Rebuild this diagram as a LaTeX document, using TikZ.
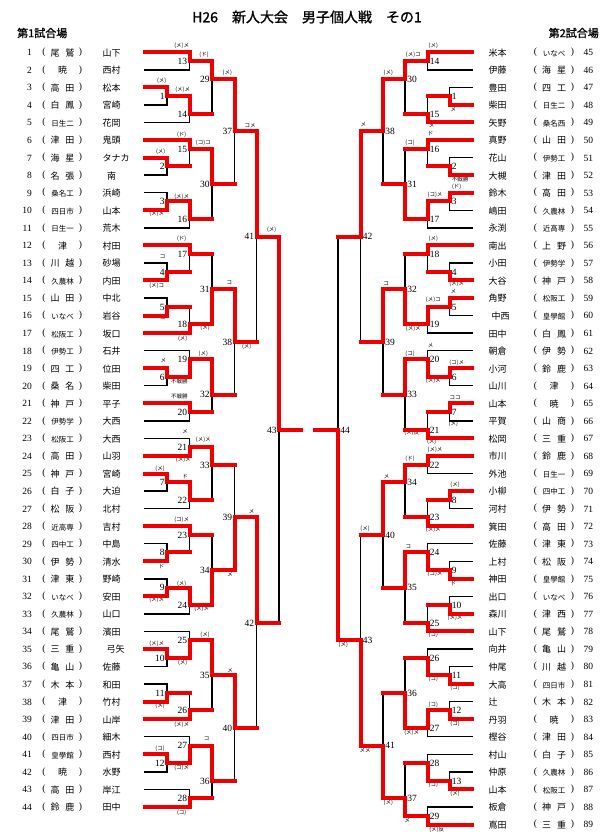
\documentclass[tikz,border=0pt]{standalone}
\usepackage{fontspec}
\setmainfont{Liberation Serif}
\newfontfamily\jp{Noto Sans CJK JP}
\newfontfamily\jpb[FakeBold=1.2]{Noto Sans CJK JP}
\definecolor{bred}{RGB}{238,0,0}
\pgfdeclarelayer{fg}
\pgfsetlayers{main,fg}
\tikzset{
 bk/.style={line width=1.4pt,black,line cap=rect},
 rd/.style={line width=4pt,bred,line cap=rect},
 num/.style={font=\fontsize{9.5}{9.5}\selectfont,inner sep=0.6pt,text height=0.68em,text depth=0pt},
 rn/.style={font=\fontsize{9.5}{9.5}\selectfont,inner sep=0pt,text height=0.68em,text depth=0pt},
 nm/.style={font=\jp\fontsize{9}{9}\selectfont,inner sep=0pt,text height=0.78em,text depth=0pt},
 pa/.style={font=\fontsize{9.5}{9.5}\selectfont,inner sep=0pt},
 sch/.style={font=\jp\fontsize{9}{9}\selectfont,inner sep=0pt,text height=0.78em,text depth=0pt},
 sc/.style={font=\jp\fontsize{5.5}{5.5}\selectfont,inner sep=0pt},
}
\def\Lo{167}\def\Lt{189.5}\def\Lh{212}\def\Lf{234.5}\def\Lv{256.5}\def\Ls{279}
\def\Ro{449.5}\def\Rt{427.5}\def\Rh{405}\def\Rf{383}\def\Rv{360.5}\def\Rs{338}
% left match: #1 no, #2 vertical x, #3 top start x, #4 top p, #5 bottom start x, #6 bottom p, #7 out p, #8 winner t/b
\newcommand\LM[8]{%
 \draw[bk] (#2,#4)--(#2,#6);
 \ifdim#3pt>146pt\relax\else\draw[bk](#3,#4)--(#2,#4);\fi
 \ifdim#5pt>146pt\relax\else\draw[bk](#5,#6)--(#2,#6);\fi
 \begin{pgfonlayer}{fg}
 \ifdim#3pt>146pt \draw[rd](#3,#4)--(#2,#4);\fi
 \ifdim#5pt>146pt \draw[rd](#5,#6)--(#2,#6);\fi
 \if t#8 \draw[rd](#3,#4)--(#2,#4)--(#2,#7);\else\draw[rd](#5,#6)--(#2,#6)--(#2,#7);\fi
 \end{pgfonlayer}
 \node[num,anchor=east,xshift=-1.6pt] (mL#1) at (#2,#7) {#1};
}
\newcommand\RM[8]{%
 \draw[bk] (#2,#4)--(#2,#6);
 \ifdim#3pt<471pt\relax\else\draw[bk](#3,#4)--(#2,#4);\fi
 \ifdim#5pt<471pt\relax\else\draw[bk](#5,#6)--(#2,#6);\fi
 \begin{pgfonlayer}{fg}
 \ifdim#3pt<471pt \draw[rd](#3,#4)--(#2,#4);\fi
 \ifdim#5pt<471pt \draw[rd](#5,#6)--(#2,#6);\fi
 \if t#8 \draw[rd](#3,#4)--(#2,#4)--(#2,#7);\else\draw[rd](#5,#6)--(#2,#6)--(#2,#7);\fi
 \end{pgfonlayer}
 \node[num,anchor=west,xshift=1.6pt] (mR#1) at (#2,#7) {#1};
}
\newcommand\sB[2]{\makebox[24pt][s]{#1\hfil#2}}
\newcommand\sC[1]{{\fontsize{7.5}{7.5}\selectfont #1}}
\newcommand\Lrow[3]{% #1 number(=p), #2 school, #3 name
 \node[rn,anchor=east] (lnum#1) at (32,#1) {#1};
 \node[pa] (lpa#1) at (44,#1) {(};
 \node[sch] (lsc#1) at (62.5,#1) {#2};
 \node[pa] (lpb#1) at (80.5,#1) {)};
 \node[nm,anchor=west] (lnm#1) at (102.5,#1) {#3};
}
\newcommand\Rrow[4]{% #1 p, #2 number, #3 school, #4 name
 \node[nm,anchor=west] (rnm#2) at (488.5,#1) {#4};
 \node[pa] (rpa#2) at (535.5,#1) {(};
 \node[sch] (rsc#2) at (554,#1) {#3};
 \node[pa] (rpb#2) at (572.5,#1) {)};
 \node[rn,anchor=west] (rnum#2) at (583.5,#1) {#2};
}
\newcommand\lb[3]{\node[sc] at (#1,#2) {#3};}
\begin{document}
\begin{tikzpicture}[x=1pt,y=-17.55pt]
\useasboundingbox (0,-1.980) rectangle (615,45.826);
\fill[white] (0,-1.980) rectangle (615,45.826);
% ---------- left bracket ----------
\LM{13}{\Lt}{145}{1}{145}{2}{1.5}{t}
\LM{1}{\Lo}{145}{3}{145}{4}{3.5}{t}
\LM{14}{\Lt}{\Lo}{3.5}{145}{5}{4.5}{t}
\LM{29}{\Lh}{\Lt}{1.5}{\Lt}{4.5}{2.5}{t}
\LM{2}{\Lo}{145}{7}{145}{8}{7.5}{t}
\LM{15}{\Lt}{145}{6}{\Lo}{7.5}{6.5}{t}
\LM{3}{\Lo}{145}{9}{145}{10}{9.5}{b}
\LM{16}{\Lt}{\Lo}{9.5}{145}{11}{10.5}{t}
\LM{30}{\Lh}{\Lt}{6.5}{\Lt}{10.5}{8.5}{t}
\LM{37}{\Lf}{\Lh}{2.5}{\Lh}{8.5}{5.5}{t}
\LM{4}{\Lo}{145}{13}{145}{14}{13.5}{b}
\LM{17}{\Lt}{145}{12}{\Lo}{13.5}{12.5}{t}
\LM{5}{\Lo}{145}{15}{145}{16}{15.5}{b}
\LM{18}{\Lt}{\Lo}{15.5}{145}{17}{16.5}{b}
\LM{31}{\Lh}{\Lt}{12.5}{\Lt}{16.5}{14.5}{b}
\LM{6}{\Lo}{145}{19}{145}{20}{19.5}{t}
\LM{19}{\Lt}{145}{18}{\Lo}{19.5}{18.5}{b}
\LM{20}{\Lt}{145}{21}{145}{22}{21.5}{t}
\LM{32}{\Lh}{\Lt}{18.5}{\Lt}{21.5}{20.5}{t}
\LM{38}{\Lf}{\Lh}{14.5}{\Lh}{20.5}{17.5}{t}
\LM{41}{\Lv}{\Lf}{5.5}{\Lf}{17.5}{11.5}{t}
\LM{21}{\Lt}{145}{23}{145}{24}{23.5}{b}
\LM{7}{\Lo}{145}{25}{145}{26}{25.5}{t}
\LM{22}{\Lt}{\Lo}{25.5}{145}{27}{26.5}{t}
\LM{33}{\Lh}{\Lt}{23.5}{\Lt}{26.5}{24.5}{t}
\LM{8}{\Lo}{145}{29}{145}{30}{29.5}{b}
\LM{23}{\Lt}{145}{28}{\Lo}{29.5}{28.5}{t}
\LM{9}{\Lo}{145}{31}{145}{32}{31.5}{b}
\LM{24}{\Lt}{\Lo}{31.5}{145}{33}{32.5}{t}
\LM{34}{\Lh}{\Lt}{28.5}{\Lt}{32.5}{30.5}{b}
\LM{39}{\Lf}{\Lh}{24.5}{\Lh}{30.5}{27.5}{b}
\LM{10}{\Lo}{145}{35}{145}{36}{35.5}{t}
\LM{25}{\Lt}{145}{34}{\Lo}{35.5}{34.5}{b}
\LM{11}{\Lo}{145}{37}{145}{38}{37.5}{b}
\LM{26}{\Lt}{\Lo}{37.5}{145}{39}{38.5}{b}
\LM{35}{\Lh}{\Lt}{34.5}{\Lt}{38.5}{36.5}{t}
\LM{12}{\Lo}{145}{41}{145}{42}{41.5}{t}
\LM{27}{\Lt}{145}{40}{\Lo}{41.5}{40.5}{b}
\LM{28}{\Lt}{145}{43}{145}{44}{43.5}{b}
\LM{36}{\Lh}{\Lt}{40.5}{\Lt}{43.5}{42.5}{t}
\LM{40}{\Lf}{\Lh}{36.5}{\Lh}{42.5}{39.5}{t}
\LM{42}{\Lv}{\Lf}{27.5}{\Lf}{39.5}{33.5}{t}
\LM{43}{\Ls}{\Lv}{11.5}{\Lv}{33.5}{22.5}{t}
% ---------- right bracket ----------
\RM{14}{\Rt}{472}{1}{472}{2}{1.5}{t}
\RM{1}{\Ro}{472}{3}{472}{4}{3.5}{b}
\RM{15}{\Rt}{\Ro}{3.5}{472}{5}{4.5}{b}
\RM{30}{\Rh}{\Rt}{1.5}{\Rt}{4.5}{2.5}{t}
\RM{2}{\Ro}{472}{7}{472}{8}{7.5}{b}
\RM{16}{\Rt}{472}{6}{\Ro}{7.5}{6.5}{t}
\RM{3}{\Ro}{472}{9}{472}{10}{9.5}{t}
\RM{17}{\Rt}{\Ro}{9.5}{472}{11}{10.5}{t}
\RM{31}{\Rh}{\Rt}{6.5}{\Rt}{10.5}{8.5}{b}
\RM{38}{\Rf}{\Rh}{2.5}{\Rh}{8.5}{5.5}{t}
\RM{4}{\Ro}{472}{13}{472}{14}{13.5}{b}
\RM{18}{\Rt}{472}{12}{\Ro}{13.5}{12.5}{t}
\RM{5}{\Ro}{472}{15}{472}{16}{15.5}{t}
\RM{19}{\Rt}{\Ro}{15.5}{472}{17}{16.5}{t}
\RM{32}{\Rh}{\Rt}{12.5}{\Rt}{16.5}{14.5}{b}
\RM{6}{\Ro}{472}{19}{472}{20}{19.5}{t}
\RM{20}{\Rt}{472}{18}{\Ro}{19.5}{18.5}{b}
\RM{7}{\Ro}{472}{21}{472}{22}{21.5}{t}
\RM{21}{\Rt}{\Ro}{21.5}{472}{23}{22.5}{b}
\RM{33}{\Rh}{\Rt}{18.5}{\Rt}{22.5}{20.5}{t}
\RM{39}{\Rf}{\Rh}{14.5}{\Rh}{20.5}{17.5}{t}
\RM{42}{\Rv}{\Rf}{5.5}{\Rf}{17.5}{11.5}{t}
\RM{22}{\Rt}{472}{24}{472}{25}{24.5}{t}
\RM{8}{\Ro}{472}{26}{472}{27}{26.5}{t}
\RM{23}{\Rt}{\Ro}{26.5}{472}{28}{27.5}{b}
\RM{34}{\Rh}{\Rt}{24.5}{\Rt}{27.5}{25.5}{t}
\RM{9}{\Ro}{472}{30}{472}{31}{30.5}{b}
\RM{24}{\Rt}{472}{29}{\Ro}{30.5}{29.5}{b}
\RM{10}{\Ro}{472}{32}{472}{33}{32.5}{b}
\RM{25}{\Rt}{\Ro}{32.5}{472}{34}{33.5}{b}
\RM{35}{\Rh}{\Rt}{29.5}{\Rt}{33.5}{31.5}{t}
\RM{40}{\Rf}{\Rh}{25.5}{\Rh}{31.5}{28.5}{t}
\RM{11}{\Ro}{472}{36}{472}{37}{36.5}{b}
\RM{26}{\Rt}{472}{35}{\Ro}{36.5}{35.5}{b}
\RM{12}{\Ro}{472}{38}{472}{39}{38.5}{b}
\RM{27}{\Rt}{\Ro}{38.5}{472}{40}{39.5}{t}
\RM{36}{\Rh}{\Rt}{35.5}{\Rt}{39.5}{37.5}{b}
\RM{13}{\Ro}{472}{42}{472}{43}{42.5}{b}
\RM{28}{\Rt}{472}{41}{\Ro}{42.5}{41.5}{b}
\RM{29}{\Rt}{472}{44}{472}{45}{44.5}{b}
\RM{37}{\Rh}{\Rt}{41.5}{\Rt}{44.5}{43.5}{b}
\RM{41}{\Rf}{\Rh}{37.5}{\Rh}{43.5}{40.5}{b}
\RM{43}{\Rv}{\Rf}{28.5}{\Rf}{40.5}{34.5}{b}
\RM{44}{\Rs}{\Rv}{11.5}{\Rv}{34.5}{22.5}{b}
\coordinate (cl) at (301,22.5);
\coordinate (cr) at (315,22.5);
\begin{pgfonlayer}{fg}
\draw[rd] (\Ls,22.5) -- (cl);
\draw[rd] (\Rs,22.5) -- (cr);
\end{pgfonlayer}
% ---------- left rows ----------
\Lrow{1}{\sB{尾}{鷲}}{山下}
\Lrow{2}{暁}{西村}
\Lrow{3}{\sB{高}{田}}{松本}
\Lrow{4}{\sB{白}{鳳}}{宮崎}
\Lrow{5}{\sC{日生二}}{花岡}
\Lrow{6}{\sB{津}{田}}{鬼頭}
\Lrow{7}{\sB{海}{星}}{タナカ}
\Lrow{8}{\sB{名}{張}}{\hspace{4.5pt}南}
\Lrow{9}{\sC{桑名工}}{浜崎}
\Lrow{10}{\sC{四日市}}{山本}
\Lrow{11}{\sC{日生一}}{荒木}
\Lrow{12}{津}{村田}
\Lrow{13}{\sB{川}{越}}{砂場}
\Lrow{14}{\sC{久農林}}{内田}
\Lrow{15}{\sB{山}{田}}{中北}
\Lrow{16}{\sC{いなべ}}{岩谷}
\Lrow{17}{\sC{松阪工}}{坂口}
\Lrow{18}{\sC{伊勢工}}{石井}
\Lrow{19}{\sB{四}{工}}{位田}
\Lrow{20}{\sB{桑}{名}}{柴田}
\Lrow{21}{\sB{神}{戸}}{平子}
\Lrow{22}{\sC{伊勢学}}{大西}
\Lrow{23}{\sC{松阪工}}{大西}
\Lrow{24}{\sB{高}{田}}{山羽}
\Lrow{25}{\sB{神}{戸}}{宮崎}
\Lrow{26}{\sB{白}{子}}{大迫}
\Lrow{27}{\sB{松}{阪}}{北村}
\Lrow{28}{\sC{近高専}}{吉村}
\Lrow{29}{\sC{四中工}}{中島}
\Lrow{30}{\sB{伊}{勢}}{清水}
\Lrow{31}{\sB{津}{東}}{野崎}
\Lrow{32}{\sC{いなべ}}{安田}
\Lrow{33}{\sC{久農林}}{山口}
\Lrow{34}{\sB{尾}{鷲}}{濱田}
\Lrow{35}{\sB{三}{重}}{\hspace{4pt}弓矢}
\Lrow{36}{\sB{亀}{山}}{佐藤}
\Lrow{37}{\sB{木}{本}}{和田}
\Lrow{38}{津}{竹村}
\Lrow{39}{\sB{津}{田}}{山岸}
\Lrow{40}{\sC{四日市}}{細木}
\Lrow{41}{\sC{皇學館}}{西村}
\Lrow{42}{暁}{水野}
\Lrow{43}{\sB{高}{田}}{岸江}
\Lrow{44}{\sB{鈴}{鹿}}{田中}
% ---------- right rows ----------
\Rrow{1}{45}{\sC{いなべ}}{米本}
\Rrow{2}{46}{\sB{海}{星}}{伊藤}
\Rrow{3}{47}{\sB{四}{工}}{豊田}
\Rrow{4}{48}{\sC{日生二}}{柴田}
\Rrow{5}{49}{\sC{桑名西}}{矢野}
\Rrow{6}{50}{\sB{山}{田}}{真野}
\Rrow{7}{51}{\sC{伊勢工}}{花山}
\Rrow{8}{52}{\sB{津}{田}}{大槻}
\Rrow{9}{53}{\sB{高}{田}}{鈴木}
\Rrow{10}{54}{\sC{久農林}}{嶋田}
\Rrow{11}{55}{\sC{近高専}}{永渕}
\Rrow{12}{56}{\sB{上}{野}}{南出}
\Rrow{13}{57}{\sC{伊勢学}}{小田}
\Rrow{14}{58}{\sB{神}{戸}}{大谷}
\Rrow{15}{59}{\sC{松阪工}}{角野}
\Rrow{16}{60}{\sC{皇學館}}{\hspace{3pt}中西}
\Rrow{17}{61}{\sB{白}{鳳}}{田中}
\Rrow{18}{62}{\sB{伊}{勢}}{朝倉}
\Rrow{19}{63}{\sB{鈴}{鹿}}{小河}
\Rrow{20}{64}{津}{山川}
\Rrow{21}{65}{暁}{山本}
\Rrow{22}{66}{\sB{山}{商}}{平賀}
\Rrow{23}{67}{\sB{三}{重}}{松岡}
\Rrow{24}{68}{\sB{鈴}{鹿}}{市川}
\Rrow{25}{69}{\sC{日生一}}{外池}
\Rrow{26}{70}{\sC{四中工}}{小柳}
\Rrow{27}{71}{\sB{伊}{勢}}{河村}
\Rrow{28}{72}{\sB{高}{田}}{箕田}
\Rrow{29}{73}{\sB{津}{東}}{佐藤}
\Rrow{30}{74}{\sB{松}{阪}}{上村}
\Rrow{31}{75}{\sC{皇學館}}{神田}
\Rrow{32}{76}{\sC{いなべ}}{出口}
\Rrow{33}{77}{\sB{津}{西}}{森川}
\Rrow{34}{78}{\sB{尾}{鷲}}{山下}
\Rrow{35}{79}{\sB{亀}{山}}{向井}
\Rrow{36}{80}{\sB{川}{越}}{仲尾}
\Rrow{37}{81}{\sC{四日市}}{大高}
\Rrow{38}{82}{\sB{木}{本}}{辻}
\Rrow{39}{83}{暁}{丹羽}
\Rrow{40}{84}{\sB{津}{田}}{樫谷}
\Rrow{41}{85}{\sB{白}{子}}{村山}
\Rrow{42}{86}{\sC{久農林}}{仲原}
\Rrow{43}{87}{\sC{松阪工}}{山本}
\Rrow{44}{88}{\sB{神}{戸}}{板倉}
\Rrow{45}{89}{\sB{三}{重}}{嶌田}
% ---------- titles and score marks (pixel coordinates) ----------
\begin{scope}[y=-1pt,yshift=34.75pt]
\node[font=\jpb\fontsize{14}{14}\selectfont,inner sep=0pt] (title) at (307,17) {H26\quad 新人大会\quad 男子個人戦\quad その1};
\node[font=\jpb\fontsize{11}{11}\selectfont,inner sep=0pt,anchor=west] (court1) at (17,33) {第1試合場};
\node[font=\jpb\fontsize{11}{11}\selectfont,inner sep=0pt,anchor=east] (court2) at (599,33) {第2試合場};
\lb{181.7}{45.7}{(メ)メ}
\lb{204}{54.3}{(ド)}
\lb{227.3}{72.3}{(メ)}
\lb{161.7}{81}{(メ)}
\lb{182.7}{90}{(メ)メ}
\lb{250}{125}{コメ}
\lb{181.7}{134.3}{(ド)}
\lb{203.3}{142.3}{(コ)コ}
\lb{160.7}{151.7}{(メ)}
\lb{181.7}{196.7}{(メ)メ}
\lb{156.7}{213.3}{(メ)メ}
\lb{271.7}{230}{(メ)}
\lb{181.7}{239}{(ド)}
\lb{162.7}{256.7}{コ}
\lb{156.7}{285.7}{(メ)コ}
\lb{229.3}{282.3}{コ}
\lb{162.7}{317.7}{コ}
\lb{205}{327.7}{(メ)}
\lb{182.7}{338.3}{(メ)}
\lb{246.7}{346.7}{(メ)}
\lb{163.3}{360}{メ}
\lb{203.3}{353.3}{(メ)}
\lb{179.3}{381.7}{不戦勝}
\lb{179.3}{396.7}{不戦勝}
\lb{185}{431}{メ}
\lb{203.3}{440}{(メ)メ}
\lb{183.3}{459.3}{(メ)メ}
\lb{160}{468.3}{(メ)}
\lb{185}{476.7}{ド}
\lb{181.7}{520}{(コ)メ}
\lb{161.7}{566.7}{ド}
\lb{181.7}{583.3}{(メ)}
\lb{156.7}{600}{(メ)メ}
\lb{201.7}{609}{(メ)メ}
\lb{230}{574}{メ}
\lb{251.7}{511}{メ}
\lb{205}{634.3}{(メ)}
\lb{156.7}{643.3}{(メ)メ}
\lb{182.7}{662.3}{(メ)}
\lb{230}{670}{メ}
\lb{160}{706}{(メ)}
\lb{181.7}{724.3}{(メ)メ}
\lb{206.7}{739}{コ}
\lb{160}{748.3}{(コ)}
\lb{181.7}{767.3}{(コ)メ}
\lb{181.7}{812.3}{(コ)}
\lb{433.3}{45.7}{(メ)}
\lb{413.3}{55}{(メ)コ}
\lb{388.3}{72.3}{(メ)}
\lb{453.3}{109}{メ}
\lb{431.7}{125.7}{メ}
\lb{363.3}{124.3}{メ}
\lb{430.7}{133.3}{ド}
\lb{410}{142.3}{(コ)}
\lb{460}{179}{不戦勝}
\lb{456.7}{186.7}{(ド)}
\lb{435}{195}{(コ)メ}
\lb{433.3}{239}{(メ)}
\lb{386}{283.3}{コ}
\lb{456.7}{283.3}{(メ)メ}
\lb{453.3}{291.7}{メ}
\lb{433.3}{300}{(メ)コ}
\lb{413.3}{328.3}{(メ)メ}
\lb{430.7}{345}{メ}
\lb{410}{353.3}{(コ)}
\lb{456.7}{362.7}{(コ)メ}
\lb{433.3}{380.7}{(メ)メ}
\lb{455}{397.7}{ココ}
\lb{453.3}{423.3}{(メ)}
\lb{411.7}{432.3}{(メ)反}
\lb{431.7}{441.7}{(メ)}
\lb{435}{450}{(メ)メ}
\lb{410}{459}{(ド)}
\lb{386.7}{476.7}{メ}
\lb{455}{485}{(メ)}
\lb{433.3}{530}{(メ)メ}
\lb{365}{529}{(メ)}
\lb{408.3}{546.7}{コ}
\lb{435}{574}{(コ)メ}
\lb{453.3}{583.3}{ド}
\lb{455}{617.7}{(メ)メ}
\lb{433.3}{635}{(コ)}
\lb{343.3}{645}{(メ)}
\lb{433.3}{679}{(コ)}
\lb{455}{687.7}{(コ)}
\lb{433.3}{704.3}{(コ)}
\lb{455}{723.3}{(コ)}
\lb{411.7}{732.3}{(メ)メ}
\lb{365}{750}{メメ}
\lb{433.3}{784.3}{(コ)}
\lb{455}{793.3}{(メ)}
\lb{388.3}{802.7}{(メ)}
\lb{407.3}{820}{メ}
\lb{436.7}{830}{(メ)反}
\end{scope}
\end{tikzpicture}
\end{document}
